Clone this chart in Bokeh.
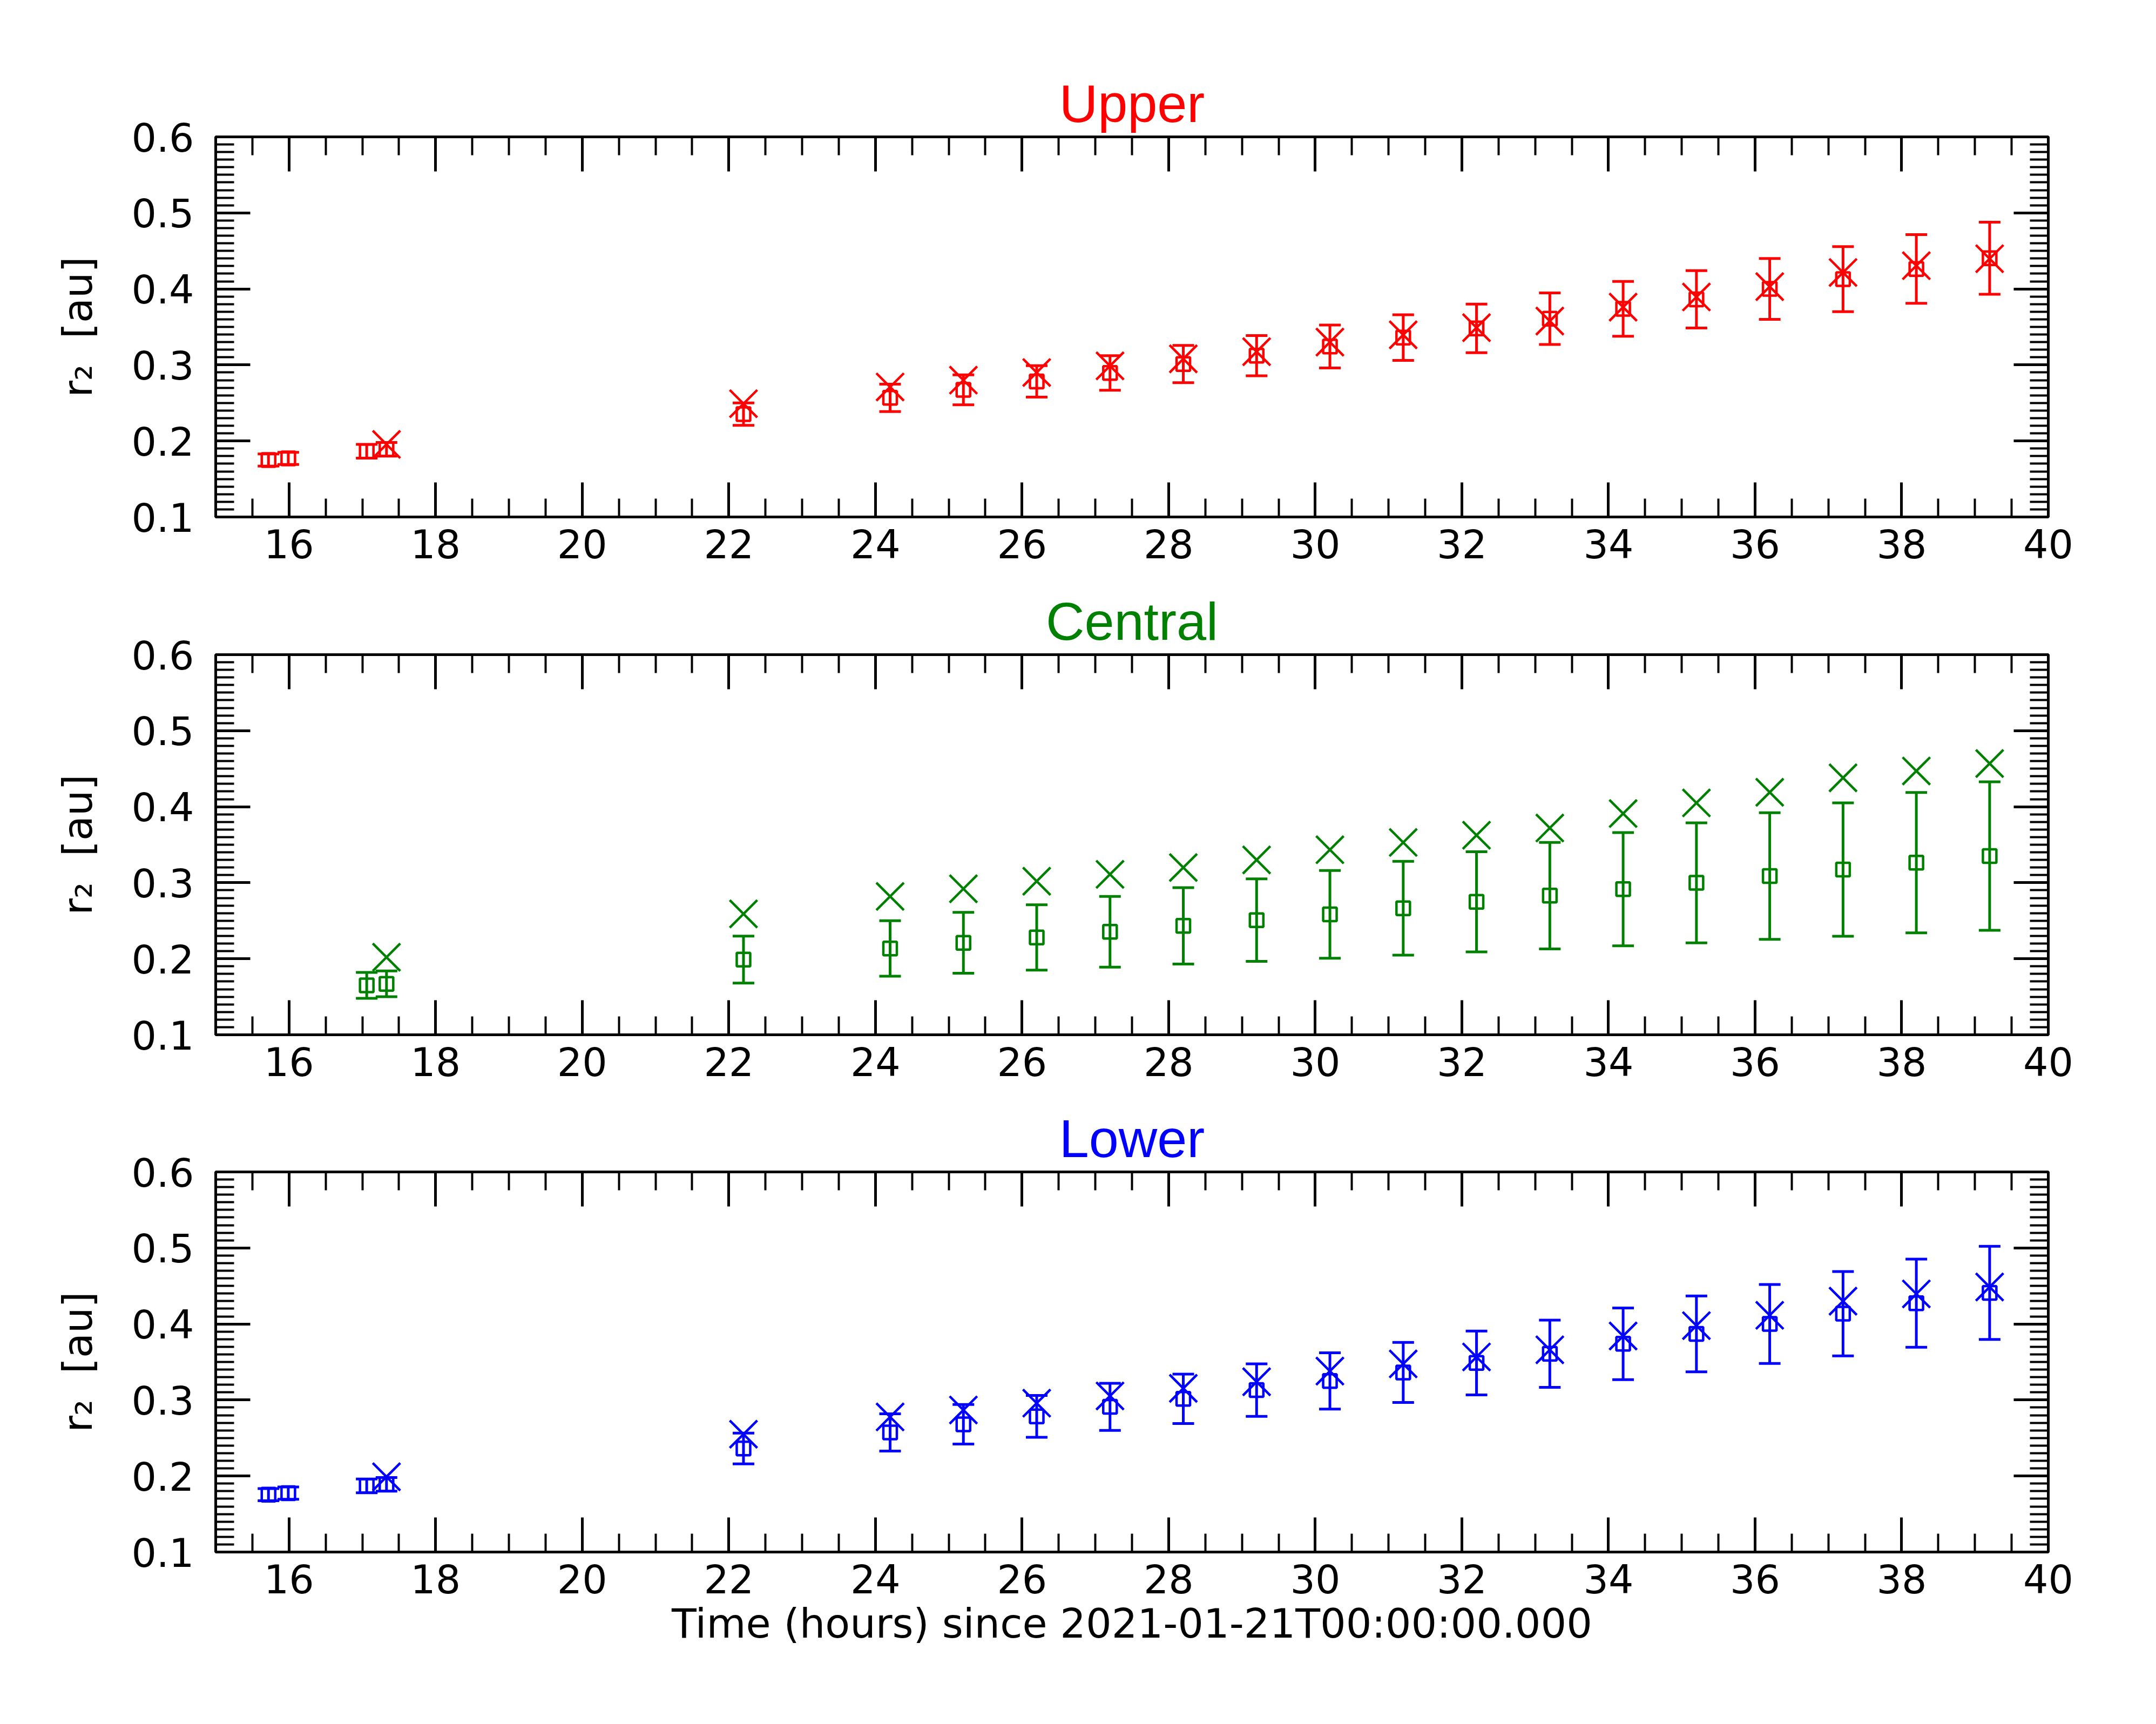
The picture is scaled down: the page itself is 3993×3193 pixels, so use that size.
import numpy as np
from bokeh.plotting import figure
from bokeh.layouts import column
from bokeh.models import (ColumnDataSource, Whisker, TeeHead, LinearAxis, Range1d,
                          FixedTicker)
from bokeh.embed import file_html
from bokeh.resources import INLINE

# ---------------- data ----------------
t_early = [15.72, 15.99, 17.06, 17.33]
t_main = [22.2, 24.2, 25.2, 26.2, 27.2, 28.2, 29.2, 30.2, 31.2, 32.2,
          33.2, 34.2, 35.2, 36.2, 37.2, 38.2, 39.2]

upper_t = t_early + t_main
upper_r = [0.175, 0.177, 0.1865, 0.189,
           0.2353, 0.2567, 0.2673, 0.2783, 0.2894, 0.3011, 0.3122, 0.3242, 0.336,
           0.348, 0.3609, 0.3738, 0.3863, 0.400, 0.4128, 0.4262, 0.4404]
upper_err = [0.008, 0.008, 0.009, 0.009,
             0.0148, 0.0181, 0.0197, 0.0207, 0.0227, 0.0245, 0.0265, 0.0282, 0.030,
             0.032, 0.0339, 0.036, 0.0377, 0.040, 0.0428, 0.0452, 0.0474]
upper_xt = [17.33] + t_main
upper_x = [0.1955, 0.249, 0.271, 0.280, 0.290, 0.2988, 0.308, 0.3174, 0.330,
           0.3396, 0.349, 0.3577, 0.376, 0.3894, 0.403, 0.4216, 0.4306, 0.4397]

central_t = [17.06, 17.33] + t_main
central_r = [0.165, 0.167,
             0.1989, 0.2135, 0.221, 0.228, 0.2355, 0.2433, 0.2508, 0.2583, 0.2664,
             0.2749, 0.283, 0.2915, 0.2999, 0.3088, 0.3174, 0.3264, 0.3351]
central_err = [0.017, 0.017,
               0.0309, 0.0365, 0.040, 0.043, 0.0465, 0.0503, 0.0542, 0.0577, 0.0617,
               0.0659, 0.070, 0.0745, 0.0789, 0.0832, 0.0877, 0.0924, 0.0977]
central_xt = [17.33] + t_main
central_x = [0.202, 0.259, 0.282, 0.292, 0.302, 0.311, 0.320, 0.330, 0.3434,
             0.353, 0.3625, 0.372, 0.391, 0.405, 0.419, 0.438, 0.447, 0.4568]

lower_t = t_early + t_main
lower_r = [0.1755, 0.1775, 0.187, 0.189,
           0.2362, 0.2573, 0.268, 0.2785, 0.291, 0.3015, 0.313, 0.325, 0.3362,
           0.3487, 0.3609, 0.3739, 0.3869, 0.400, 0.4135, 0.4273, 0.4409]
lower_err = [0.008, 0.008, 0.009, 0.009,
             0.0202, 0.0245, 0.026, 0.0275, 0.031, 0.0325, 0.0345, 0.037, 0.0395,
             0.042, 0.0442, 0.0472, 0.0499, 0.052, 0.0555, 0.058, 0.0612]
lower_xt = [17.33] + t_main
lower_x = [0.199, 0.255, 0.2777, 0.2868, 0.2958, 0.3053, 0.3153, 0.324, 0.338,
           0.3475, 0.3566, 0.366, 0.3842, 0.3978, 0.4114, 0.430, 0.4395, 0.4486]

titles = ["Upper", "Central", "Lower"]
colors = ["#ff0000", "#008000", "#0000ff"]
y_label = "r\u2082\u00a0\u00a0[au]"
x_label = "Time (hours) since 2021-01-21T00:00:00.000"

x_major = [16, 18, 20, 22, 24, 26, 28, 30, 32, 34, 36, 38, 40]
x_minor = [15 + 0.5 * i for i in range(51)]
y_major = [0.1, 0.2, 0.3, 0.4, 0.5, 0.6]
y_minor = [round(0.1 + 0.01 * i, 2) for i in range(51)]

TICK_FONT = "DejaVu Sans"
TICK_SIZE = "73px"
LABEL_SIZE = "75px"
LW = 5


def style_axis(ax, labels=True, xaxis=True):
    ax.axis_line_width = LW
    ax.axis_line_color = "black"
    ax.major_tick_line_width = LW
    ax.minor_tick_line_width = 4
    ax.major_tick_line_color = "black"
    ax.minor_tick_line_color = "black"
    ax.major_tick_in = 64
    ax.major_tick_out = 0
    ax.minor_tick_in = 34
    ax.minor_tick_out = 0
    if xaxis:
        ax.ticker = FixedTicker(ticks=x_major, minor_ticks=x_minor)
    else:
        ax.ticker = FixedTicker(ticks=y_major, minor_ticks=y_minor)
    if labels:
        ax.major_label_text_font = TICK_FONT
        ax.major_label_text_font_size = TICK_SIZE
        ax.major_label_text_color = "black"
        ax.major_label_standoff = 22 if xaxis else 40
    else:
        ax.major_label_text_font_size = "1px"
        ax.major_label_text_color = None
        ax.major_label_standoff = 0


def make_panel(title, color, t, r, err, xt, xv, top_border, bottom_border, show_xlabel):
    p = figure(x_range=Range1d(15, 40), y_range=Range1d(0.1, 0.6),
               frame_width=3394, frame_height=704,
               min_border_left=399, min_border_right=175,
               min_border_top=top_border, min_border_bottom=bottom_border,
               output_backend="svg", toolbar_location=None)
    p.xgrid.visible = False
    p.ygrid.visible = False
    p.background_fill_color = "white"
    p.border_fill_color = "white"
    p.outline_line_color = "black"
    p.outline_line_width = LW

    p.title.text = title
    p.title.text_color = color
    p.title.text_font = "Liberation Sans"
    p.title.text_font_size = "99px"
    p.title.text_font_style = "normal"
    p.title.align = "center"
    p.title.standoff = 13

    style_axis(p.xaxis[0], labels=True, xaxis=True)
    style_axis(p.yaxis[0], labels=True, xaxis=False)
    p.yaxis[0].axis_label = y_label
    p.yaxis[0].axis_label_text_font = TICK_FONT
    p.yaxis[0].axis_label_text_font_size = LABEL_SIZE
    p.yaxis[0].axis_label_text_font_style = "normal"
    p.yaxis[0].axis_label_text_color = "black"
    p.yaxis[0].axis_label_standoff = 52
    if show_xlabel:
        p.xaxis[0].axis_label = x_label
        p.xaxis[0].axis_label_text_font = TICK_FONT
        p.xaxis[0].axis_label_text_font_size = LABEL_SIZE
        p.xaxis[0].axis_label_text_font_style = "normal"
        p.xaxis[0].axis_label_text_color = "black"
        p.xaxis[0].axis_label_standoff = 9

    top_ax = LinearAxis()
    style_axis(top_ax, labels=False, xaxis=True)
    p.add_layout(top_ax, "above")
    right_ax = LinearAxis()
    style_axis(right_ax, labels=False, xaxis=False)
    p.add_layout(right_ax, "right")

    r_arr = np.array(r)
    e_arr = np.array(err)
    src = ColumnDataSource(dict(t=t, r=r, upper=r_arr + e_arr, lower=r_arr - e_arr))
    w = Whisker(source=src, base="t", upper="upper", lower="lower", dimension="height",
                line_color=color, line_width=LW,
                upper_head=TeeHead(size=40, line_color=color, line_width=LW),
                lower_head=TeeHead(size=40, line_color=color, line_width=LW))
    p.add_layout(w)
    p.scatter("t", "r", source=src, marker="square", size=25,
              fill_color=None, line_color=color, line_width=4.5)

    xsrc = ColumnDataSource(dict(t=xt, v=xv))
    p.scatter("t", "v", source=xsrc, marker="x", size=72,
              line_color=color, line_width=4.5)
    return p


p1 = make_panel(titles[0], colors[0], upper_t, upper_r, upper_err, upper_xt, upper_x,
                253, 100, False)
p2 = make_panel(titles[1], colors[1], central_t, central_r, central_err, central_xt,
                central_x, 155, 100, False)
p3 = make_panel(titles[2], colors[2], lower_t, lower_r, lower_err, lower_xt, lower_x,
                154, 250, True)

layout = column(p1, p2, p3, spacing=0)
open("out.html", "w").write(file_html(layout, INLINE))
